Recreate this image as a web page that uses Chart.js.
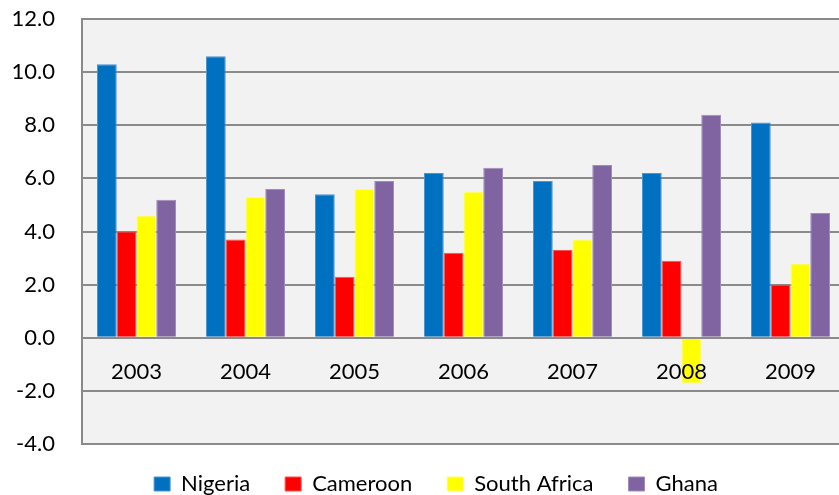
<!DOCTYPE html>
<html>
<head>
<meta charset="utf-8">
<script src="https://cdn.jsdelivr.net/npm/chart.js@4/dist/chart.umd.min.js"></script>
<style>
  html, body { margin: 0; padding: 0; background: #ffffff; overflow: hidden; }
  #wrap { position: relative; width: 846px; height: 495px; }
</style>
</head>
<body>
<div id="wrap"><canvas id="chart"></canvas></div>
<script>
// GDP growth (annual %), 2003-2009
const years = ['2003', '2004', '2005', '2006', '2007', '2008', '2009'];
const nigeria = [10.3, 10.6, 5.4, 6.2, 5.9, 6.2, 8.1];
const cameroon = [4.0, 3.7, 2.3, 3.2, 3.3, 2.9, 2.0];
const southAfrica = [4.6, 5.3, 5.6, 5.5, 3.7, -1.7, 2.8];
const ghana = [5.2, 5.6, 5.9, 6.4, 6.5, 8.4, 4.7];

const FONT = 'Lato, "Open Sans", "DejaVu Sans", sans-serif';
const LEGEND_PAD = 35;
const LEGEND_FONT = 22;

// Light grey fill behind the plotting area only
const plotBackground = {
  id: 'plotBackground',
  beforeDraw(chart) {
    const { ctx, chartArea: a } = chart;
    ctx.save();
    ctx.fillStyle = '#f2f2f2';
    ctx.fillRect(a.left, a.top, a.right - a.left, a.bottom - a.top);
    ctx.restore();
  }
};

// Fixed legend band height; legend row placed a little below the band top
const legendBand = {
  id: 'legendBand',
  beforeLayout(chart) {
    const lg = chart.legend;
    if (lg && !lg._fixedFit) {
      const fit = lg.fit;
      lg.fit = function () { fit.call(this); this.height = 51; };
      lg._fixedFit = true;
    }
  },
  afterLayout(chart) {
    const lg = chart.legend;
    if (lg) {
      lg.left = 0;
      lg.right = 872;
      lg.top = 484 - LEGEND_PAD - LEGEND_FONT / 2;
    }
  }
};

const series = (label, data, color, border) => ({
  label, data,
  backgroundColor: color,
  borderColor: border,
  borderWidth: 1,
  categoryPercentage: 0.725,
  barPercentage: 1.0
});

new Chart(document.getElementById('chart'), {
  type: 'bar',
  data: {
    labels: years,
    datasets: [
      series('Nigeria', nigeria, '#0070c0', '#4f94d0'),
      series('Cameroon', cameroon, '#ff0000', '#ff5050'),
      series('South Africa', southAfrica, '#ffff00', '#ffff66'),
      series('Ghana', ghana, '#8064a2', '#a08cbc')
    ]
  },
  options: {
    responsive: true,
    maintainAspectRatio: false,
    animation: false,
    layout: { padding: { left: 0, top: 19, right: 1, bottom: 0 } },
    plugins: {
      title: { display: false },
      tooltip: { enabled: false },
      legend: {
        position: 'bottom',
        labels: {
          color: '#000000',
          font: { family: FONT, size: LEGEND_FONT },
          boxWidth: 16,
          boxHeight: 14,
          padding: LEGEND_PAD
        }
      }
    },
    scales: {
      x: {
        position: { y: 0 },
        grid: { display: false, drawTicks: false },
        border: { display: false },
        ticks: {
          z: 1,
          color: '#000000',
          font: { family: FONT, size: 22 },
          padding: 21,
          maxRotation: 0
        },
        afterFit(scale) { scale.height = 8; scale.paddingLeft = 0; scale.paddingRight = 0; }
      },
      y: {
        min: -4,
        max: 12,
        ticks: {
          stepSize: 2,
          color: '#000000',
          font: { family: FONT, size: 22 },
          padding: 27,
          callback: (v) => Number(v).toFixed(1)
        },
        grid: { color: '#8a8a8a', lineWidth: 2, drawTicks: false },
        border: { display: true, color: '#8a8a8a', width: 2 },
        afterFit(scale) { scale.width = 82; scale.paddingTop = 0; scale.paddingBottom = 0; }
      }
    }
  },
  plugins: [plotBackground, legendBand]
});
</script>
</body>
</html>
